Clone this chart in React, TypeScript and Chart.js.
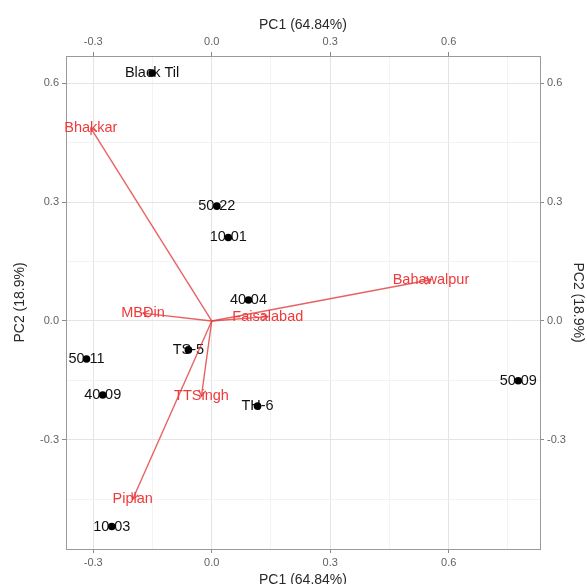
import React, { useEffect, useRef } from 'react';
import { Chart, registerables } from 'chart.js';

Chart.register(...registerables);

// Sample scores (PC1, PC2)
const sampleNames = ['Black Til', '50-22', '10-01', '40-04', 'TS-5', '50-11', '40-09', 'TH-6', '10-03', '50-09'];
const sampleX = [-0.151, 0.013, 0.042, 0.093, -0.059, -0.317, -0.276, 0.116, -0.253, 0.776];
const sampleY = [0.626, 0.290, 0.211, 0.053, -0.073, -0.096, -0.187, -0.215, -0.519, -0.151];

// Variable loadings (arrows)
const varNames = ['Bhakkar', 'Bahawalpur', 'Faisalabad', 'MBDin', 'TTSingh', 'Piplan'];
const varX = [-0.306, 0.555, 0.142, -0.174, -0.026, -0.2];
const varY = [0.487, 0.104, 0.011, 0.02, -0.19, -0.45];

const majorTicks = [-0.3, 0, 0.3, 0.6];
const xTitle = 'PC1 (64.84%)';
const yTitle = 'PC2 (18.9%)';

const X_MIN = -0.3689;
const X_MAX = 0.8311;
const Y_MIN = -0.5758;
const Y_MAX = 0.6692;
const STEP = 0.15;

const FONT = '"Liberation Sans", Arial, Helvetica, sans-serif';
const W = 587;
const H = 590;

function gridValues(min: number, max: number) {
  const out: number[] = [];
  for (let k = Math.ceil(min / STEP); k <= Math.floor(max / STEP); k++) {
    out.push(Math.round(k * 15) / 100);
  }
  return out;
}
function isMajor(v: number) {
  return majorTicks.some((t) => Math.abs(t - v) < 1e-6);
}

function makeScale(axis: 'x' | 'y', position: string, isMain: boolean, size: number, titlePad: any) {
  const min = axis === 'x' ? X_MIN : Y_MIN;
  const max = axis === 'x' ? X_MAX : Y_MAX;
  return {
    type: 'linear',
    axis,
    position,
    min,
    max,
    afterBuildTicks: (s: any) => {
      s.ticks = gridValues(min, max).map((v) => ({ value: v }));
    },
    afterFit: (s: any) => {
      if (axis === 'x') s.height = size;
      else s.width = size;
    },
    ticks: {
      autoSkip: false,
      maxRotation: 0,
      minRotation: 0,
      padding: 3,
      color: '#626262',
      font: { family: FONT, size: 11 },
      callback: (v: number) => (isMajor(v) ? v.toFixed(1) : ''),
    },
    grid: {
      display: true,
      drawOnChartArea: isMain,
      drawTicks: true,
      tickLength: 4,
      lineWidth: (ctx: any) => (ctx.tick && isMajor(ctx.tick.value) ? 1 : 0.8),
      color: (ctx: any) => (ctx.tick && isMajor(ctx.tick.value) ? '#e4e4e4' : '#f0f0f0'),
      tickColor: (ctx: any) => (ctx.tick && isMajor(ctx.tick.value) ? '#8a8a8a' : 'rgba(0,0,0,0)'),
      tickWidth: 1,
    },
    border: { display: true, color: '#9a9a9a', width: 1 },
    title: {
      display: true,
      text: axis === 'x' ? xTitle : yTitle,
      color: '#2a2a2a',
      font: { family: FONT, size: 14 },
      padding: titlePad,
    },
  };
}

const biplotPlugin = {
  id: 'biplotLabels',
  beforeDatasetsDraw(chart: any) {
    const { ctx, scales } = chart;
    const x = scales.x;
    const y = scales.y;
    ctx.save();
    ctx.font = `14.5px ${FONT}`;
    ctx.fillStyle = '#111111';
    ctx.textAlign = 'center';
    ctx.textBaseline = 'middle';
    sampleNames.forEach((n, i) => {
      ctx.fillText(n, x.getPixelForValue(sampleX[i]), y.getPixelForValue(sampleY[i]));
    });
    ctx.restore();
  },
  afterDatasetsDraw(chart: any) {
    const { ctx, scales } = chart;
    const x = scales.x;
    const y = scales.y;
    const ox = x.getPixelForValue(0);
    const oy = y.getPixelForValue(0);
    ctx.save();
    ctx.strokeStyle = 'rgba(225,60,60,0.8)';
    ctx.lineWidth = 1.4;
    varNames.forEach((_, i) => {
      const px = x.getPixelForValue(varX[i]);
      const py = y.getPixelForValue(varY[i]);
      const a = Math.atan2(py - oy, px - ox);
      const len = 7;
      ctx.beginPath();
      ctx.moveTo(px - len * Math.cos(a - Math.PI / 6), py - len * Math.sin(a - Math.PI / 6));
      ctx.lineTo(px, py);
      ctx.lineTo(px - len * Math.cos(a + Math.PI / 6), py - len * Math.sin(a + Math.PI / 6));
      ctx.stroke();
    });
    ctx.font = `14.5px ${FONT}`;
    ctx.fillStyle = '#f03a3a';
    ctx.textAlign = 'center';
    ctx.textBaseline = 'middle';
    varNames.forEach((n, i) => {
      ctx.fillText(n, x.getPixelForValue(varX[i]), y.getPixelForValue(varY[i]));
    });
    ctx.restore();
  },
};

export default function App() {
  const ref = useRef<HTMLCanvasElement | null>(null);
  useEffect(() => {
    if (!ref.current) return;
    const arrowSets = varNames.map((n, i) => ({
      type: 'line',
      label: n,
      data: [
        { x: 0, y: 0 },
        { x: varX[i], y: varY[i] },
      ],
      showLine: true,
      borderColor: 'rgba(225,60,60,0.8)',
      borderWidth: 1.4,
      pointRadius: 0,
      fill: false,
      order: 2,
    }));
    const pointSet = {
      type: 'scatter',
      label: 'samples',
      data: sampleX.map((v, i) => ({ x: v, y: sampleY[i] })),
      pointRadius: 3.8,
      pointBackgroundColor: '#000',
      pointBorderWidth: 0,
      backgroundColor: '#000',
      order: 1,
    };
    const chart = new Chart(ref.current, {
      type: 'scatter',
      data: { datasets: [...arrowSets, pointSet] as any },
      options: {
        responsive: false,
        animation: false,
        devicePixelRatio: 1,
        layout: { padding: 0 },
        plugins: { legend: { display: false }, tooltip: { enabled: false } },
        scales: {
          x: makeScale('x', 'bottom', true, H - 549, { top: 0, bottom: 1 }),
          x2: makeScale('x', 'top', false, 56, { top: 17, bottom: 0 }),
          y: makeScale('y', 'left', true, 66, { top: 12, bottom: 0 }),
          y2: makeScale('y', 'right', false, W - 540, { top: 1, bottom: 0 }),
        } as any,
      },
      plugins: [biplotPlugin],
    } as any);
    return () => chart.destroy();
  }, []);
  return (
    <div style={{ position: 'fixed', left: 0, top: 0, width: W, height: H, background: '#fff' }}>
      <canvas ref={ref} width={W} height={H} style={{ display: 'block', width: W, height: H }} />
    </div>
  );
}
